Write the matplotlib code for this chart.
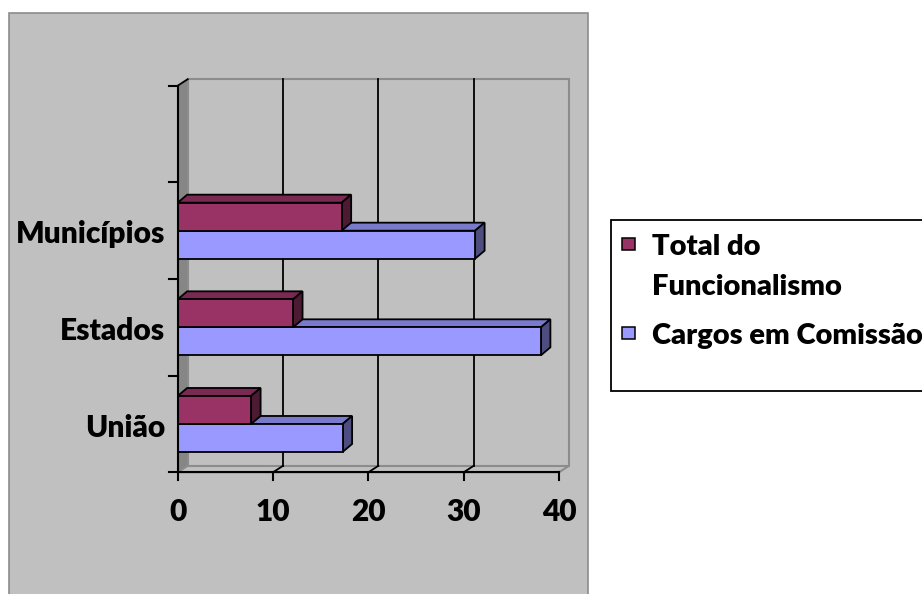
import matplotlib
matplotlib.use("Agg")
import matplotlib.pyplot as plt
import matplotlib.transforms as mtransforms
from matplotlib.patches import Polygon, Rectangle

# ---- data -------------------------------------------------------------
categories = ["União", "Estados", "Municípios"]
total_funcionalismo = [7.7, 12.1, 17.2]
cargos_comissao = [17.3, 38.1, 31.2]
series_labels = ["Total do\nFuncionalismo", "Cargos em Comissão"]
x_ticks = [0, 10, 20, 30, 40]

# ---- style ------------------------------------------------------------
plt.rcParams["font.family"] = ["Lato", "DejaVu Sans"]
FS = 21.5
FS_LEGEND = 21
FW = "heavy"
MAROON = ("#993366", "#7A2952", "#4D1A33")   # front, top, side
BLUE = ("#9999FF", "#7A7ACC", "#4D4D80")
CHART_BG = "#C0C0C0"
WALL_EDGE = "#8C8C8C"

W, H = 922, 594
fig = plt.figure(figsize=(W / 100, H / 100), dpi=100)
fig.patch.set_facecolor("white")

# pixel coordinates measured from the top-left corner of the figure
px = mtransforms.Affine2D().scale(1 / W, -1 / H).translate(0, 1) + fig.transFigure

# chart area (kept behind the axes)
fig.patches.append(Rectangle((9, 13), 579, 620, transform=px,
                             facecolor=CHART_BG, edgecolor=WALL_EDGE, lw=1.2,
                             zorder=-10))

# plot area (front plane of the 3D box)
X0, X1 = 177.7, 559.0
YT, YB = 85.7, 472.3
ax = fig.add_axes([X0 / W, 1 - YB / H, (X1 - X0) / W, (YB - YT) / H])
ax.set_zorder(5)
xmin, xmax = 0, 40
n_slots = len(categories) + 1
ax.set_xlim(xmin, xmax)
ax.set_ylim(0, n_slots)
ax.axis("off")
ax.patch.set_visible(False)

bbox = ax.get_window_extent()
ux = (xmax - xmin) / bbox.width     # data units per pixel
uy = n_slots / bbox.height

# depth of the walls and of the bars
WDX, WDY = 10 * ux, 6.5 * uy
BDX, BDY = 9.5 * ux, 8 * uy
BAR_H = 28 * uy
TICK = 9 * ux
TICKY = 8 * uy

# side wall
ax.add_patch(Polygon([(0, 0), (0, n_slots), (WDX, n_slots + WDY), (WDX, WDY)],
                     closed=True, facecolor="#868686", edgecolor="none",
                     clip_on=False, zorder=1))
# floor
ax.add_patch(Polygon([(0, 0), (xmax, 0), (xmax + WDX, WDY), (WDX, WDY)],
                     closed=True, facecolor=CHART_BG, edgecolor=WALL_EDGE,
                     lw=1.5, clip_on=False, zorder=1))
# back wall
ax.add_patch(Rectangle((WDX, WDY), xmax, n_slots, facecolor=CHART_BG,
                       edgecolor=WALL_EDGE, lw=1.5, clip_on=False, zorder=1))

# gridlines on the back wall, carried across the floor to the ticks
for xv in x_ticks[1:-1]:
    ax.plot([xv + WDX, xv + WDX], [WDY, n_slots + WDY], color="black",
            lw=1.3, clip_on=False, zorder=2)
    ax.plot([xv, xv + WDX], [0, WDY], color="black", lw=1.3,
            clip_on=False, zorder=2)

# axes lines and ticks
ax.plot([0, 0], [0, n_slots], color="black", lw=1.5, clip_on=False, zorder=20)
ax.plot([0, WDX], [n_slots, n_slots + WDY], color="black", lw=1.3,
        clip_on=False, zorder=20)
for yv in range(n_slots + 1):
    ax.plot([-TICK, 0], [yv, yv], color="black", lw=1.5, clip_on=False, zorder=20)
ax.plot([0, xmax], [0, 0], color="black", lw=1.5, clip_on=False, zorder=20)
for xv in x_ticks:
    ax.plot([xv, xv], [0, -TICKY], color="black", lw=1.5, clip_on=False, zorder=20)


def bar3d(y0, value, colors, z):
    front, top, side = colors
    y1 = y0 + BAR_H
    ax.add_patch(Polygon([(0, y1), (value, y1), (value + BDX, y1 + BDY),
                          (BDX, y1 + BDY)], closed=True, facecolor=top,
                         edgecolor="black", lw=1.3, joinstyle="miter",
                         clip_on=False, zorder=z))
    ax.add_patch(Polygon([(value, y0), (value, y1), (value + BDX, y1 + BDY),
                          (value + BDX, y0 + BDY)], closed=True, facecolor=side,
                         edgecolor="black", lw=1.3, joinstyle="miter",
                         clip_on=False, zorder=z))
    ax.barh(y0, value, height=BAR_H, left=0, align="edge", color=front,
            edgecolor="black", lw=1.3, clip_on=False, zorder=z)


for i, (tot, cc) in enumerate(zip(total_funcionalismo, cargos_comissao)):
    c = i + 0.5
    bar3d(c - BAR_H, cc, BLUE, 3 + 2 * i)
    bar3d(c, tot, MAROON, 4 + 2 * i)

# category labels
lab_tr = mtransforms.offset_copy(ax.transData, fig=fig, x=-12.7, y=-12.6, units="dots")
for i, name in enumerate(categories):
    ax.text(0, i + 0.5, name, transform=lab_tr, ha="right", va="baseline",
            fontsize=FS, fontweight=FW, color="black")

# value-axis labels
tick_tr = mtransforms.offset_copy(ax.transData, fig=fig, x=0, y=-48.7, units="dots")
for xv in x_ticks:
    ax.text(xv, 0, str(xv), transform=tick_tr, ha="center", va="baseline",
            fontsize=FS, fontweight=FW, color="black")

# legend
fig.patches.append(Rectangle((611, 220), 400, 171, transform=px,
                             facecolor="white", edgecolor="black", lw=1.3))
legend_rows = [(MAROON[0], series_labels[0], 255), (BLUE[0], series_labels[1], 344)]
for color, label, base in legend_rows:
    fig.patches.append(Rectangle((622, base - 17.5), 12.5, 12.5, transform=px,
                                 facecolor=color, edgecolor="black", lw=1.1))
    for k, line in enumerate(label.split("\n")):
        fig.text(652, base + 40 * k, line, transform=px, ha="left",
                 va="baseline", fontsize=FS_LEGEND, fontweight=FW, color="black")

fig.savefig("out.png", dpi=100, facecolor="white")
